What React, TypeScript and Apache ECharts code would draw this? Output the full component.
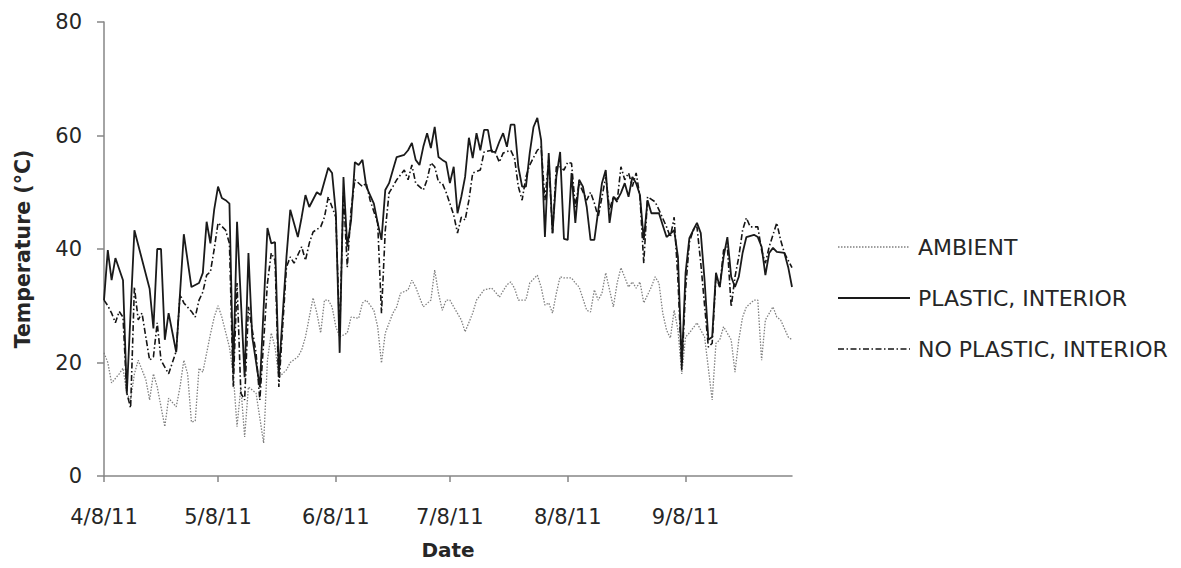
import React, { useEffect, useRef } from "react";
import * as echarts from "echarts";

// X = days since 4/8/11
const TICK_DAYS = [0, 30, 61, 91, 122, 153];
const TICK_LABELS = ["4/8/11", "5/8/11", "6/8/11", "7/8/11", "8/8/11", "9/8/11"];
const Y_TICKS = [0, 20, 40, 60, 80];
const SERIES_NAMES = ["AMBIENT", "PLASTIC, INTERIOR", "NO PLASTIC, INTERIOR"];

const AMBIENT_DAYS = [0,1,2,4,5,6,7,8,9,11,12,13,14,15,16,17,19,20,21,22,23,24,25,26,28,29,30,31,33,34,35,36,37,38,40,42,43,44,45,46,48,49,51,52,53,55,56,57,58,59,60,61,62,64,65,67,68,69,71,72,73,74,76,77,78,80,81,82,83,84,86,87,88,89,90,91,92,94,95,97,98,100,102,103,104,106,107,108,109,111,112,114,115,116,117,118,119,120,121,123,124,125,127,128,129,130,131,132,134,135,136,138,139,140,141,142,144,145,146,147,148,149,150,151,152,153,154,156,157,158,160,161,162,163,165,166,167,168,169,171,172,173,174,176,177,178,180,181];
const AMBIENT_TEMPS = [21.7,20,16.4,18,19,14.6,13.4,18,20.4,17,13.4,18,15.7,12.2,8.7,13.7,12.2,15.7,20.4,18,9.5,9.7,19,18.3,25,28,30,28,22.7,18,8.7,15.7,6.9,15.7,14.6,5.8,20.4,25.2,22.7,17.4,18.7,20,21,22.2,24.5,31.4,28.7,25.2,31,31,29.8,26.3,24.5,25.2,28,27.8,30.5,31,29.2,26.3,19.9,25.2,28.7,29.8,32.2,32.8,34.5,33.3,31.5,29.8,31,36.3,32.2,29.2,31,31,29.8,27.5,25.4,28.7,31,32.8,33.1,32.4,31.5,33.7,34.2,33.1,31,31,34,35.4,33.3,30.1,30.5,28.7,32.2,35.1,34.9,34.9,34,33.3,29.2,28.9,32.8,31,32.2,35.8,29.8,34,36.7,33.3,34.2,33.1,34.2,30.5,33.3,35.1,34,28.7,25.7,24.3,29.2,25.7,18,24.5,25.2,27,25.7,24.5,13.4,23.4,24,26.3,24,18.3,24,28,29.8,31,31,20.4,27.5,29.8,28,27.5,24.5,24];

const PLASTIC_DAYS = [0,1,2,3,5,6,8,12,13,14,15,16,17,19,21,23,25,26,27,28,29,30,31,32,33,34,35,37,38,39,41,43,44,45,46,48,49,51,52,53,54,56,57,59,60,61,62,63,64,65,66,67,68,69,71,72,73,74,75,76,77,79,80,81,82,83,84,85,86,87,88,89,90,91,92,93,94,95,96,97,98,99,100,101,102,103,104,105,106,107,108,109,110,111,112,113,114,115,116,117,118,119,120,121,122,123,124,125,126,127,128,129,131,132,133,134,135,136,137,138,139,140,141,142,143,144,146,147,148,150,151,152,153,154,155,156,157,158,159,160,161,162,163,164,165,166,167,168,169,171,172,173,174,175,176,177,179,180,181];
const PLASTIC_TEMPS = [31,39.8,34.5,38.4,34.5,14.5,43.3,33,26,40,40,24,28.7,21.8,42.6,33.3,34,35.8,44.8,41,47,51,49,48.6,48,18,44.8,17.4,39.3,24.5,15.7,43.7,41,41.2,18,38.6,46.9,42.1,45.6,49.5,47.4,50,49.5,54.3,53.4,46.3,21.7,52.7,40.4,45,55.3,54.8,55.7,51,48,44.6,41.6,50.4,51.6,53.9,56.2,56.6,57.4,58.7,55.7,54.8,58,60.4,57.8,61.5,56.2,55.7,55.3,51.6,54.5,46.3,49.2,52.7,59.6,56,60.4,57.4,61,61,57.1,57.1,58.9,60.4,58,61.9,61.9,54.5,51,51,56.9,61.5,63.1,59.2,42.1,56.9,42.8,52.7,57.1,41.8,41.6,53.4,44.6,52.2,51,47.4,41.6,41.6,51.6,53.9,44.6,49.2,48.6,49.9,51.6,49.2,52.7,51.6,49.5,41.6,48.6,46.3,46.3,44.2,42.1,43.3,38.6,19.5,35.8,41.9,43.3,44.6,42.8,34.5,24,24.5,35.8,33.3,38.6,42.1,35.1,33.3,35.1,39.3,42.1,42.5,42.1,40.4,35.4,39.3,40.2,39.5,39.3,36.8,33.3];

const NOPLASTIC_DAYS = [0,1,2,3,4,5,6,7,8,9,10,11,12,13,14,15,16,17,19,20,21,23,24,25,26,27,28,29,30,31,32,33,34,35,36,37,38,40,41,43,44,45,46,48,49,50,52,53,54,55,57,58,59,60,61,62,63,64,65,66,68,69,70,72,73,74,75,76,77,79,80,81,82,84,85,86,87,88,89,90,91,92,93,94,95,96,97,99,100,102,103,104,105,107,108,109,110,111,112,114,115,116,117,118,119,120,121,122,123,124,125,127,128,129,130,132,133,134,135,136,137,138,139,140,141,142,143,145,146,148,149,150,151,152,153,154,155,156,157,159,160,161,162,163,164,165,166,167,168,169,170,172,173,174,175,177,178,179,181];
const NOPLASTIC_TEMPS = [31,30,28.7,27,29,28,14.6,12,33.3,27.5,28.7,24.5,20.4,21,27,20.4,19.2,18,22,32,30.5,29,28,31,32.4,35.4,36,40,44.6,44,43.3,41,15.7,34,14.6,13.4,29.8,21.7,13.4,34,39.3,38,15.7,36.8,38.6,37.5,40.4,38,41,43,43.9,45.6,49.2,47.4,45.6,25.2,49.9,36.8,46.9,52.2,51,51.6,48.6,44.6,28.7,43.3,49.9,51,52.2,53.9,52.2,54.8,51.6,50.4,52.2,55.2,54.5,51.8,51.6,50,48,46,42.8,45.6,45.1,48.6,53.4,53.9,57.1,57.4,56.9,55.3,56.9,57.4,56,51,48.6,52.7,54.8,57.4,58,48.6,55.7,42.8,54.5,54.5,53.9,55.3,55.1,47.4,51.6,48.6,50,48.1,45.6,52.7,46.9,49.2,48.3,54.5,52.2,53.4,51,53.4,49.2,37.5,49.2,48.3,46.9,43.9,42.1,45.6,34.5,18.7,32.8,41.2,43.3,43.9,37.5,22.7,23.4,35.1,33.3,39.8,40.4,29.8,35.1,38.6,43.3,45.5,43.9,43.9,39.8,37.5,40.4,44.6,41.6,39.3,36.7];

const pairs = (d: number[], t: number[]) => d.map((x, i) => [x, t[i]]);

const FONT = "DejaVu Sans";
const AXIS_GRAY = "#868686";
const TEXT = "#262626";

const LINE_STYLES = [
  { color: "#808080", width: 1.3, dash: [1.5, 1.5] as number[] | null },
  { color: "#1a1a1a", width: 1.8, dash: null as number[] | null },
  { color: "#151515", width: 1.6, dash: [6, 2.5, 1.5, 2.5] as number[] | null },
];
const LEGEND_X = 838;
const LEGEND_LINE_W = 72;
const LEGEND_Y0 = 247;
const LEGEND_STEP = 51;

export default function App() {
  const ref = useRef<HTMLDivElement>(null);
  useEffect(() => {
    if (!ref.current) return;
    const chart = echarts.init(ref.current, undefined, { renderer: "svg" });
    const legendGraphics: any[] = [];
    SERIES_NAMES.forEach((name, i) => {
      const s = LINE_STYLES[i];
      const y = LEGEND_Y0 + i * LEGEND_STEP;
      legendGraphics.push({
        type: "line",
        silent: true,
        shape: { x1: LEGEND_X, y1: y, x2: LEGEND_X + LEGEND_LINE_W, y2: y },
        style: { stroke: s.color, lineWidth: s.width, lineDash: s.dash ?? undefined },
      });
      legendGraphics.push({
        type: "text",
        silent: true,
        x: LEGEND_X + LEGEND_LINE_W + 8,
        y,
        style: { text: name, fontFamily: FONT, fontSize: 22, fill: TEXT, verticalAlign: "middle", align: "left" },
      });
    });
    const mk = (i: number, days: number[], temps: number[]) => ({
      name: SERIES_NAMES[i],
      type: "line",
      symbol: "none",
      data: pairs(days, temps),
      lineStyle: { color: LINE_STYLES[i].color, width: LINE_STYLES[i].width, type: LINE_STYLES[i].dash ?? "solid" },
      itemStyle: { color: LINE_STYLES[i].color },
    });
    chart.setOption({
      animation: false,
      backgroundColor: "#ffffff",
      grid: { left: 104, right: 389, top: 22, bottom: 92, containLabel: false },
      graphic: legendGraphics,
      xAxis: {
        type: "value",
        min: 0,
        max: 181,
        name: "Date",
        nameLocation: "middle",
        nameGap: 64,
        nameTextStyle: { fontFamily: FONT, fontSize: 20, fontWeight: "bold", color: TEXT },
        splitLine: { show: false },
        axisLine: { show: true, lineStyle: { color: AXIS_GRAY, width: 1.5 } },
        axisTick: { show: true, length: 6, lineStyle: { color: AXIS_GRAY, width: 1.5 }, customValues: TICK_DAYS },
        axisLabel: {
          customValues: TICK_DAYS,
          margin: 30,
          fontFamily: FONT,
          fontSize: 21,
          color: TEXT,
          formatter: (v: number) => TICK_LABELS[TICK_DAYS.indexOf(Math.round(v))] ?? "",
        },
      },
      yAxis: {
        type: "value",
        min: 0,
        max: 80,
        interval: 20,
        name: "Temperature (°C)",
        nameLocation: "middle",
        nameGap: 71,
        nameRotate: 90,
        nameTextStyle: { fontFamily: FONT, fontSize: 20.5, fontWeight: "bold", color: TEXT },
        splitLine: { show: false },
        axisLine: { show: true, lineStyle: { color: AXIS_GRAY, width: 1.5 } },
        axisTick: { show: true, length: 7, lineStyle: { color: AXIS_GRAY, width: 1.5 } },
        axisLabel: {
          margin: 22,
          fontFamily: FONT,
          fontSize: 21,
          color: TEXT,
          formatter: (v: number) => (Y_TICKS.includes(v) ? String(v) : ""),
        },
      },
      series: [
        mk(0, AMBIENT_DAYS, AMBIENT_TEMPS),
        mk(1, PLASTIC_DAYS, PLASTIC_TEMPS),
        mk(2, NOPLASTIC_DAYS, NOPLASTIC_TEMPS),
      ],
    });
    return () => chart.dispose();
  }, []);
  return <div ref={ref} style={{ width: 1181, height: 568, margin: -8 }} />;
}
